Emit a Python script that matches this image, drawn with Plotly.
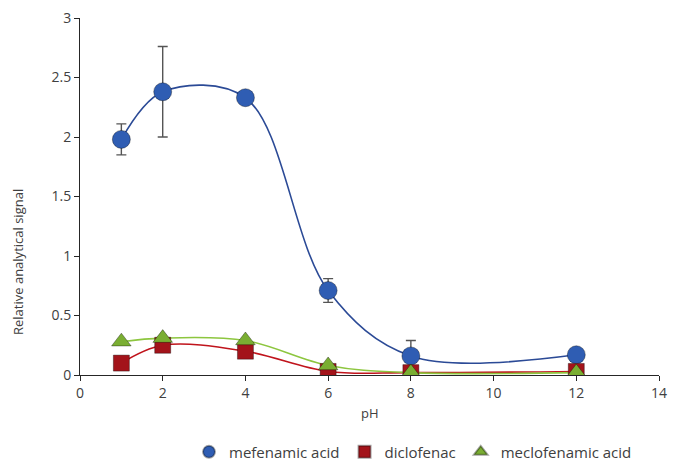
import plotly.graph_objects as go

ph = [1, 2, 4, 6, 8, 12]
mefenamic = [1.98, 2.38, 2.33, 0.71, 0.16, 0.17]
mefenamic_err_plus = [0.13, 0.38, 0.05, 0.10, 0.13, 0.0]
mefenamic_err_minus = [0.13, 0.38, 0.05, 0.10, 0.13, 0.0]
diclofenac = [0.10, 0.25, 0.20, 0.03, 0.02, 0.03]
meclofenamic = [0.28, 0.31, 0.29, 0.08, 0.02, 0.02]
x_ticks = [0, 2, 4, 6, 8, 10, 12, 14]
y_ticks = [0, 0.5, 1, 1.5, 2, 2.5, 3]
y_tick_labels = ["0", "0.5", "1", "1.5", "2", "2.5", "3"]

series = [
    ("mefenamic acid", mefenamic, "#2B4A96", "#2F5DB3", "circle", 18),
    ("diclofenac", diclofenac, "#C0141C", "#A3131A", "square", 16),
    ("meclofenamic acid", meclofenamic, "#8DC63F", "#7AAE32", "triangle-up", 17),
]

fig = go.Figure()
for name, vals, lc, mc, sym, sz in series:
    fig.add_trace(go.Scatter(x=ph, y=vals, mode="lines",
                             line=dict(color=lc, width=1.6, shape="spline", smoothing=1.0),
                             showlegend=False, hoverinfo="skip"))
for name, vals, lc, mc, sym, sz in series:
    kw = {}
    if name == "mefenamic acid":
        kw["error_y"] = dict(type="data", array=mefenamic_err_plus, arrayminus=mefenamic_err_minus,
                             color="#555555", thickness=1.4, width=5)
    fig.add_trace(go.Scatter(x=ph, y=vals, mode="markers", name=name,
                             marker=dict(symbol=sym, size=sz, color=mc,
                                         line=dict(color="rgba(0,0,0,0.35)", width=1)), **kw))

fig.update_layout(
    width=673, height=462,
    margin=dict(l=80, r=14, t=18, b=87, autoexpand=False),
    plot_bgcolor="white", paper_bgcolor="white",
    font=dict(family="Open Sans, Liberation Sans, sans-serif", size=13, color="#404040"),
    xaxis=dict(range=[0, 14], tickmode="array", tickvals=x_ticks,
               showline=True, linecolor="#262626", linewidth=1, ticks="outside", ticklen=5,
               tickcolor="#262626", showgrid=False, zeroline=False, automargin=False,
               tickfont=dict(size=14)),
    yaxis=dict(range=[0, 3], tickmode="array", tickvals=y_ticks, ticktext=y_tick_labels,
               showline=True, linecolor="#262626", linewidth=1, ticks="outside", ticklen=5,
               tickcolor="#262626", showgrid=False, zeroline=False, automargin=False,
               tickfont=dict(size=14)),
    legend=dict(orientation="h", x=(189 - 80) / 579, xanchor="left", y=-0.216, yanchor="middle",
                font=dict(size=15, color="#404040"), itemwidth=30, tracegroupgap=0,
                itemsizing="constant"),
    annotations=[
        dict(text="Relative analytical signal", xref="paper", yref="paper",
             x=(18 - 80) / 579, y=(375 - 262) / 357, xanchor="center", yanchor="middle",
             textangle=-90, showarrow=False, font=dict(size=13, color="#404040")),
        dict(text="pH", xref="paper", yref="paper",
             x=(370 - 80) / 579, y=(375 - 413) / 357, xanchor="center", yanchor="middle",
             showarrow=False, font=dict(size=13, color="#404040")),
    ],
)

fig.write_html("out.html", config={"displayModeBar": False},
               post_script="document.body.style.margin='0';document.body.style.overflow='hidden';")
